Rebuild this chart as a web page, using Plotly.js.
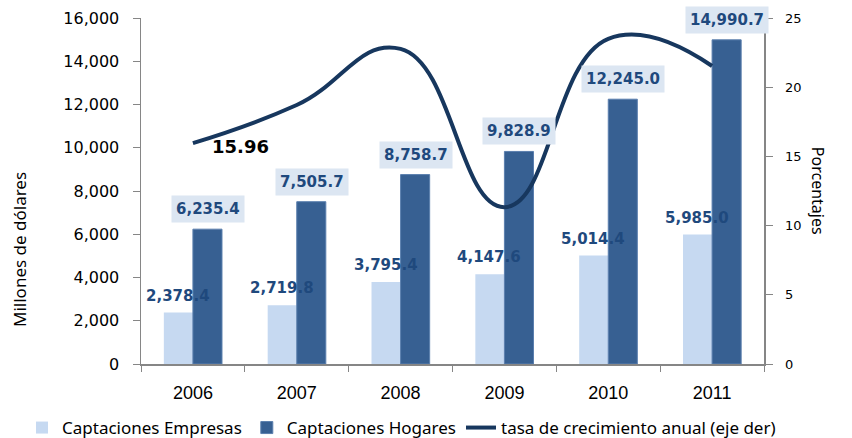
<!DOCTYPE html>
<html>
<head>
<meta charset="utf-8">
<script src="https://cdn.plot.ly/plotly-3.0.1.min.js"></script>
<style>html,body{margin:0;padding:0;background:#fff;}#chart{width:852px;height:438px;}</style>
</head>
<body>
<div id="chart"></div>
<script>
const years = ['2006', '2007', '2008', '2009', '2010', '2011'];
const empresas = [2378.4, 2719.8, 3795.4, 4147.6, 5014.4, 5985.0];
const hogares = [6235.4, 7505.7, 8758.7, 9828.9, 12245.0, 14990.7];
const tasa = [15.96, 18.71, 22.77, 11.33, 23.49, 21.53];
const seriesNames = ['Captaciones Empresas', 'Captaciones Hogares', 'tasa de crecimiento anual (eje der)'];

const xPos = years.map((_, i) => i);
const fmt = v => v.toLocaleString('en-US', {minimumFractionDigits: 1, maximumFractionDigits: 1});
const labelFont = {family: 'DejaVu Sans', size: 15, color: '#1f497d'};

const traces = [
  {type: 'bar', name: seriesNames[0], x: xPos, y: empresas, marker: {color: '#c6d9f1', line: {width: 0}}, hoverinfo: 'skip'},
  {type: 'bar', name: seriesNames[1], x: xPos, y: hogares, marker: {color: '#376092', line: {color: '#5b7fae', width: 1}}, hoverinfo: 'skip'},
  {type: 'scatter', mode: 'lines', name: seriesNames[2], x: xPos, y: tasa, yaxis: 'y2',
   line: {color: '#17375e', width: 4, shape: 'spline', smoothing: 1.3}, hoverinfo: 'skip'}
];

const annotations = [];
xPos.forEach((xp, i) => {
  annotations.push({x: xp, y: empresas[i], xref: 'x', yref: 'y', text: '<b>' + fmt(empresas[i]) + '</b>',
    showarrow: false, xshift: -15, yshift: 17, font: labelFont});
  annotations.push({x: xp, y: hogares[i], xref: 'x', yref: 'y', text: '<b>' + fmt(hogares[i]) + '</b>',
    showarrow: false, xshift: 15, yshift: 20, font: labelFont, bgcolor: '#dce6f2', borderpad: 4});
});
annotations.push({x: xPos[0], y: tasa[0], xref: 'x', yref: 'y2', text: '<b>' + tasa[0].toFixed(2) + '</b>',
  showarrow: false, xshift: 48, yshift: -3, font: {family: 'DejaVu Sans', size: 18, color: '#000'}});
annotations.push({xref: 'paper', yref: 'paper', x: 1.087, y: 0.5, xanchor: 'center', yanchor: 'middle',
  text: 'Porcentajes', textangle: 90,
  showarrow: false, font: {family: 'Noto Sans', size: 16, color: '#000'}});
annotations.push({xref: 'paper', yref: 'paper', x: -0.194, y: 0.33, xanchor: 'center', yanchor: 'middle',
  text: 'Millones de dólares', textangle: -90,
  showarrow: false, font: {family: 'Noto Sans', size: 17, color: '#000'}});

const layout = {
  width: 852, height: 438,
  margin: {l: 141, r: 88, t: 18, b: 74, autoexpand: false},
  paper_bgcolor: '#fff', plot_bgcolor: '#fff',
  barmode: 'group', bargap: 0.44, bargroupgap: 0,
  showlegend: true,
  legend: {orientation: 'h', x: -0.191, xanchor: 'left', y: -0.185, yanchor: 'middle',
    font: {family: 'Noto Sans', size: 17, color: '#000'}, traceorder: 'normal'},
  xaxis: {range: [-0.5, 5.5], tickvals: xPos, ticktext: years, showline: true, linecolor: '#868686', linewidth: 1.5,
    ticks: '', showgrid: false, zeroline: false, ticklabelstandoff: 12, automargin: false,
    minor: {ticks: 'outside', tick0: -0.5, dtick: 1, ticklen: 6, tickcolor: '#868686', showgrid: false},
    tickfont: {family: 'Liberation Sans', size: 18, color: '#000'}},
  yaxis: {range: [0, 16000], dtick: 2000, tickformat: ',', showline: true, linecolor: '#868686', linewidth: 1.5,
    ticks: 'outside', ticklen: 7, tickcolor: '#868686', showgrid: false, zeroline: false, automargin: false,
    ticklabelstandoff: 10,
    tickfont: {family: 'DejaVu Sans', size: 16, color: '#000'}},
  yaxis2: {overlaying: 'y', side: 'right', range: [0, 25], dtick: 5, showline: true, linecolor: '#868686', linewidth: 1.5,
    ticks: 'outside', ticklen: 7, tickcolor: '#868686', showgrid: false, zeroline: false, automargin: false,
    ticklabelstandoff: 10,
    tickfont: {family: 'DejaVu Sans', size: 13, color: '#000'}},
  annotations: annotations
};

Plotly.newPlot('chart', traces, layout, {displayModeBar: false, staticPlot: true});
</script>
</body>
</html>
